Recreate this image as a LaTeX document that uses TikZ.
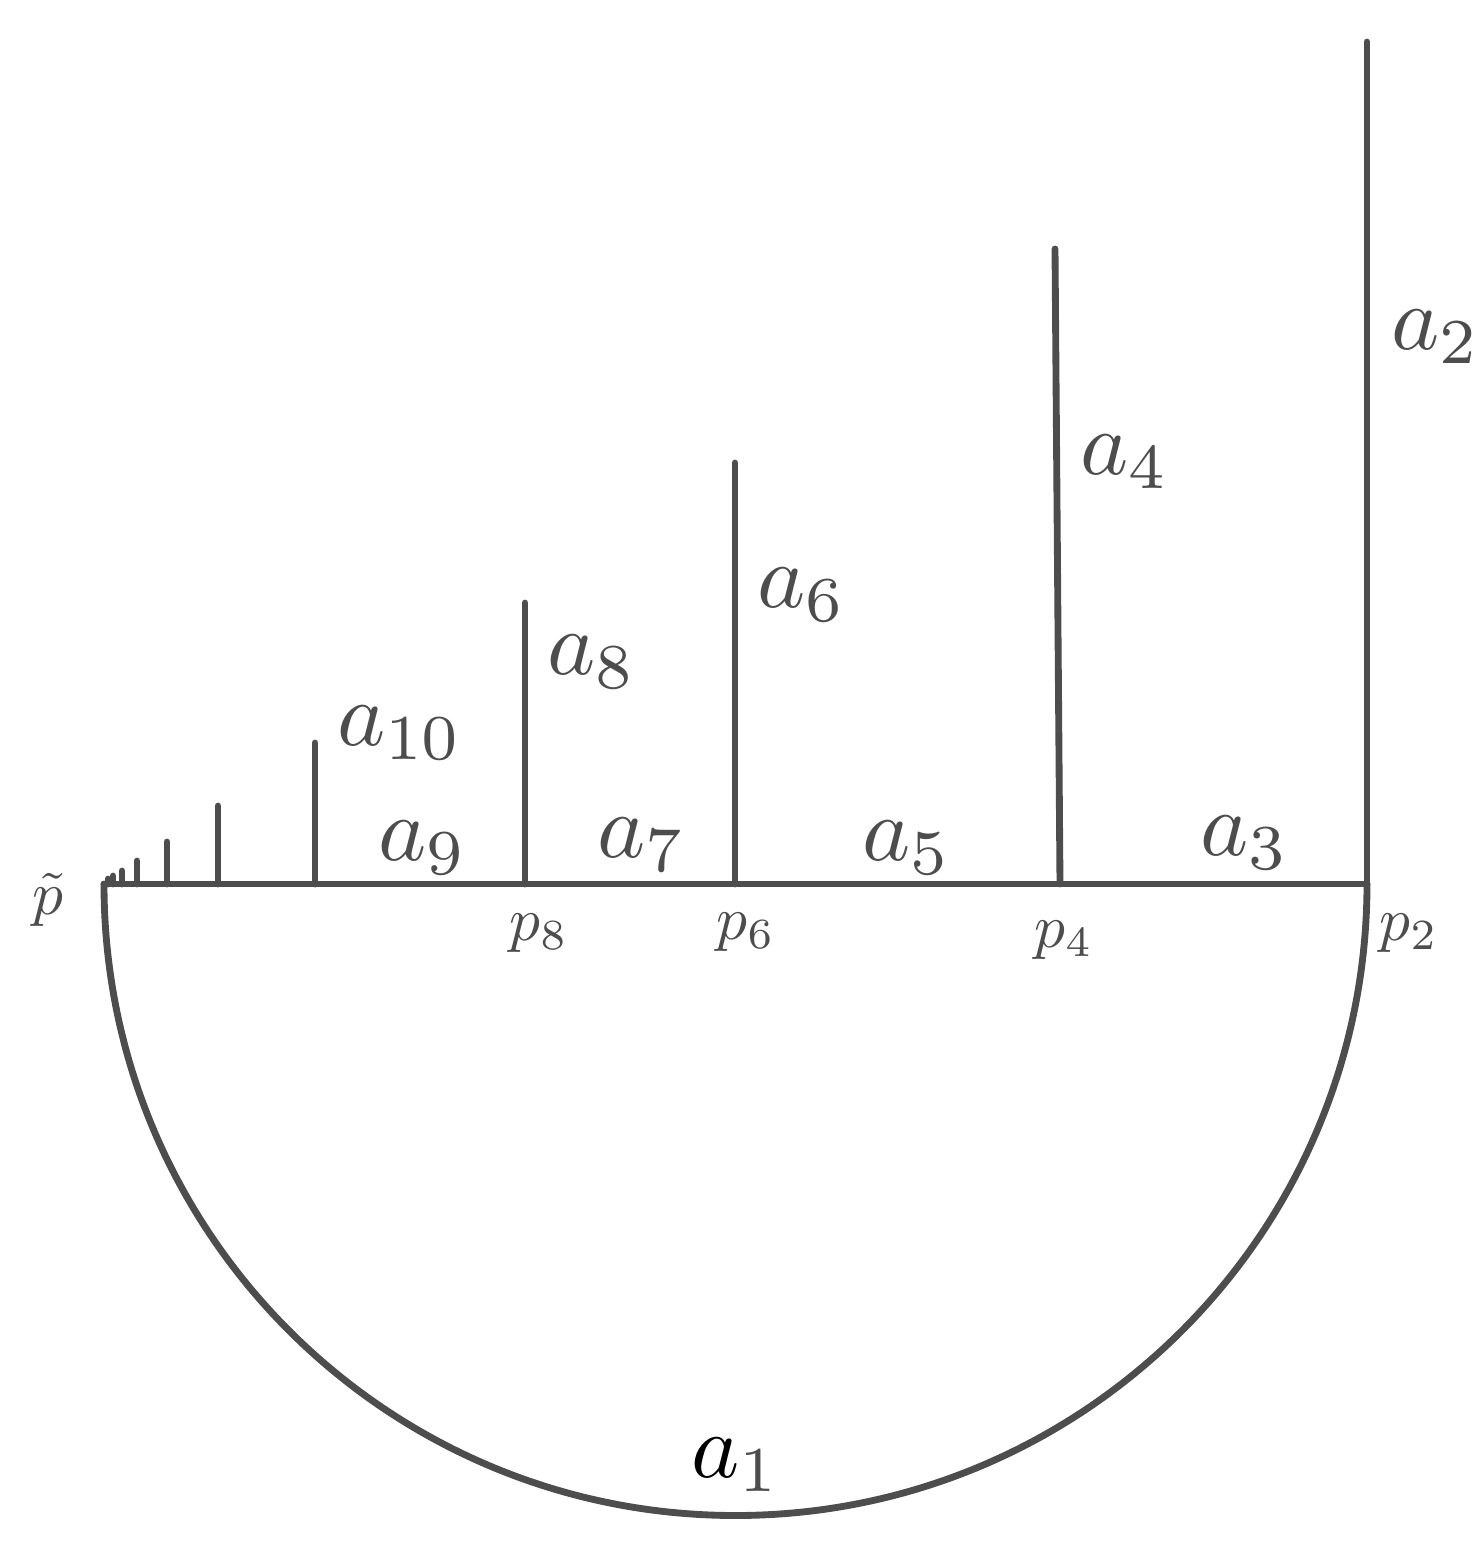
\documentclass[tikz,border=0pt]{standalone}
\definecolor{ink}{HTML}{4D4D4D}
\begin{document}
\begin{tikzpicture}[x=0.02cm,y=-0.02cm,
  seg/.style={draw=ink,line width=3.9pt,line cap=round},
  big/.style={text=ink,scale=5.2,inner sep=0pt},
  pt/.style={text=ink,scale=3.5,inner sep=0pt}]
\useasboundingbox (0,0) rectangle (1482,1544);
% base points
\coordinate (pt) at (104,884);
\coordinate (p2) at (1367,884);
\coordinate (p4) at (1060,884);
\coordinate (p6) at (735,884);
\coordinate (p8) at (525,884);
\coordinate (q10) at (315,884);
\coordinate (q12) at (218,884);
\coordinate (q14) at (167,884);
\coordinate (q16) at (137,884);
\coordinate (q18) at (122,884);
\coordinate (q20) at (113,884);
\coordinate (q22) at (108,884);
% tops
\coordinate (t2) at (1367,42);
\coordinate (t4) at (1055,249);
\coordinate (t6) at (735,463);
\coordinate (t8) at (525,603);
\coordinate (t10) at (315,743);
\coordinate (t12) at (218,806);
\coordinate (t14) at (167,842);
\coordinate (t16) at (137,861);
\coordinate (t18) at (122,871);
\coordinate (t20) at (113,876);
\coordinate (t22) at (108,879);
% semicircle and baseline
\draw[seg] (pt) arc[start angle=180,end angle=0,radius=631.5];
\draw[seg] (pt) -- (p2);
% verticals
\foreach \i in {2,4,6,8}{\draw[seg] (p\i) -- (t\i);}
\foreach \i in {10,12,14,16,18,20,22}{\draw[seg] (q\i) -- (t\i);}
% labels
\node[big] (la1) at (736,1465) {$\textcolor{black}{a}_{1}$};
\node[big] (la2) at (1436,337) {$a_{2}$};
\node[big] (la3) at (1245,843) {$a_{3}$};
\node[big] (la4) at (1125,462) {$a_{4}$};
\node[big] (la5) at (907,848) {$a_{5}$};
\node[big] (la6) at (802,595) {$a_{6}$};
\node[big] (la7) at (642,845) {$a_{7}$};
\node[big] (la8) at (592,662) {$a_{8}$};
\node[big] (la9) at (423,848) {$a_{9}$};
\node[big] (la10) at (400,733) {$a_{10}$};
\node[pt] (lpt) at (48,900) {$\tilde p$};
\node[pt] (lp8) at (539,933) {$p_{8}$};
\node[pt] (lp6) at (746,932) {$p_{6}$};
\node[pt] (lp4) at (1064,940) {$p_{4}$};
\node[pt] (lp2) at (1409,933) {$p_{2}$};
\end{tikzpicture}
\end{document}
